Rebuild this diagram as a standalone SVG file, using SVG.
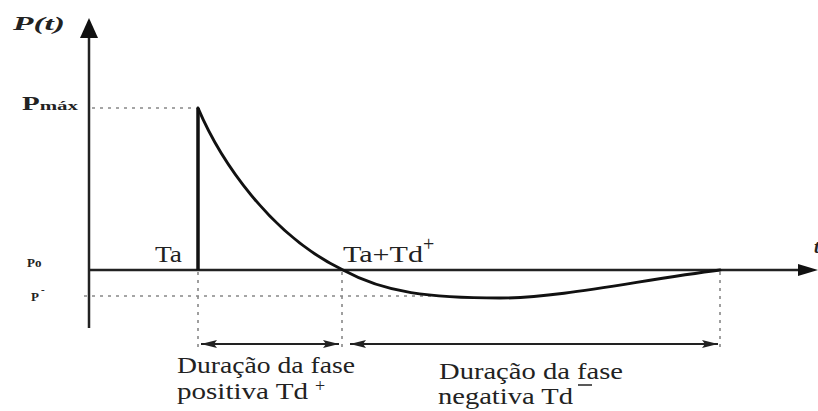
<svg xmlns="http://www.w3.org/2000/svg" width="818" height="411" viewBox="0 0 818 411">
<style>
.ax{stroke:#222;stroke-width:2.5;fill:none}
.cv{stroke:#111;stroke-width:3;fill:none;stroke-linecap:round}
.dot{stroke:#888;stroke-width:1.6;stroke-dasharray:3 5;fill:none}
.dim{stroke:#222;stroke-width:2;fill:none}
.lb{font-size:23px}
.b{font-weight:bold}
</style>
<defs>
<marker id="ah" viewBox="0 0 16 8" refX="16" refY="4" markerWidth="16" markerHeight="8" markerUnits="userSpaceOnUse" orient="auto-start-reverse">
<path d="M0,0 L16,4 L0,8 L3,4 Z" fill="#222"/>
</marker>
</defs>
<rect width="818" height="411" fill="#fff"/>
<g id="guides">
<line class="dot" x1="92" y1="108" x2="196" y2="108"/>
<line class="dot" x1="84" y1="296" x2="440" y2="296"/>
<line class="dot" x1="198" y1="272" x2="198" y2="350"/>
<line class="dot" x1="342" y1="272" x2="342" y2="350"/>
<line class="dot" x1="720" y1="272" x2="720" y2="350"/>
</g>
<g id="axes">
<line class="ax" x1="89" y1="328" x2="89" y2="36"/>
<path d="M89,18 L98,38 L80,38 Z" fill="#111"/>
<line class="ax" x1="89" y1="270" x2="800" y2="270"/>
<path d="M818,270 L798,264 L798,276 Z" fill="#111"/>
</g>
<g id="curve">
<line x1="198" y1="270" x2="198" y2="108" stroke="#111" stroke-width="3.5"/>
<path class="cv" d="M198,108 C220,160 270,235 343,270 C385,293 430,298 500,298 C560,298 640,280 720,270"/>
</g>
<g id="connectors">
<line class="dim" x1="201" y1="344" x2="339" y2="344" marker-start="url(#ah)" marker-end="url(#ah)"/>
<line class="dim" x1="350" y1="344" x2="718" y2="344" marker-start="url(#ah)" marker-end="url(#ah)"/>
</g>
<g id="labels" font-family="Liberation Serif, Times New Roman, serif" fill="#222">
<text class="b" x="13" y="30" font-size="19" font-style="italic" textLength="52" lengthAdjust="spacingAndGlyphs">P(t)</text>
<text class="b" x="814" y="253" font-size="19" font-style="italic">t</text>
<text class="b" x="22" y="110" font-size="18" textLength="56" lengthAdjust="spacingAndGlyphs">P<tspan font-size="13">máx</tspan></text>
<text class="b" x="27" y="267" font-size="13">Po</text>
<text class="b" x="31" y="301" font-size="13">P</text>
<text class="b" x="41" y="293" font-size="11">-</text>
<text x="155" y="262" font-size="24" textLength="27" lengthAdjust="spacingAndGlyphs">Ta</text>
<text x="343" y="262" font-size="24" textLength="80" lengthAdjust="spacingAndGlyphs">Ta+Td</text>
<text x="423" y="251" font-size="20">+</text>
</g>
<g id="phase-pos" font-family="Liberation Serif, Times New Roman, serif" fill="#222">
<text class="lb" x="177" y="373" textLength="178" lengthAdjust="spacingAndGlyphs">Duração da fase</text>
<text class="lb" x="177" y="399" textLength="131" lengthAdjust="spacingAndGlyphs">positiva Td</text>
<text x="315" y="392" font-size="18">+</text>
</g>
<g id="phase-neg" font-family="Liberation Serif, Times New Roman, serif" fill="#222">
<text class="lb" x="439" y="379" textLength="184" lengthAdjust="spacingAndGlyphs">Duração da fase</text>
<text class="lb" x="438" y="404" textLength="135" lengthAdjust="spacingAndGlyphs">negativa Td</text>
<line x1="578" y1="385" x2="592" y2="385" stroke="#222" stroke-width="1.5"/>
</g>
</svg>
